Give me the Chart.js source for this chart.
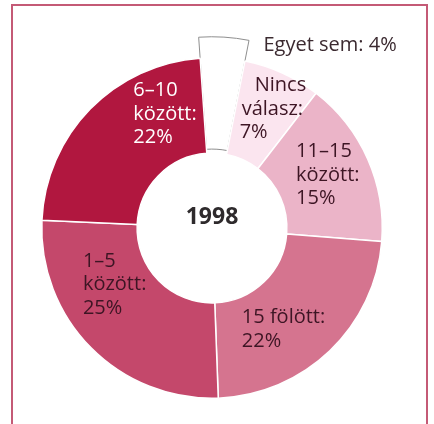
<!DOCTYPE html>
<html>
<head>
<meta charset="utf-8">
<script src="https://cdn.jsdelivr.net/npm/chart.js@4"></script>
<style>
  html, body { margin: 0; padding: 0; background: #ffffff; }
  #wrap { position: relative; width: 434px; height: 424px; overflow: hidden; }
  #frame { position: absolute; left: 11px; top: 4px; width: 417px; height: 440px;
           border: 2px solid #c45a76; box-sizing: border-box; }
  canvas { position: absolute; left: 0; top: 0; }
</style>
</head>
<body>
<div id="wrap">
  <div id="frame"></div>
  <canvas id="c" width="434" height="424"></canvas>
</div>
<script>
// Number of books read, survey of 1998 (share of respondents, %)
const categories = ['Egyet sem', 'Nincs\nválasz', '11–15\nközött', '15 fölött', '1–5\nközött', '6–10\nközött'];
const shares = [4, 7, 15, 22, 25, 22];
const centerTitle = '1998';

const sliceColors = ['#ffffff', '#fbe5ef', '#ebb4c8', '#d5748f', '#c4486b', '#b1173f'];
const sliceBorders = ['#8e8e8e', '#ffffff', '#ffffff', '#ffffff', '#ffffff', '#ffffff'];
const sliceBorderWidths = [1, 1.5, 1.5, 1.5, 1.5, 1.5];
const textColors = ['#3b2a30', '#3d1524', '#3d1524', '#3d1524', '#3d1524', '#ffffff'];

// label block placement relative to each slice's centre point
const labelLayout = [
  { dx: 43, dy: -48, inline: true, indent: [0] },
  { dx: -23, dy: -31, inline: false, indent: [15, 2, 0] },
  { dx: -28, dy: -27, inline: false, indent: [0, 0, 0] },
  { dx: -55, dy: 1, inline: false, indent: [0, 0] },
  { dx: -42, dy: -53, inline: false, indent: [0, 0, 0] },
  { dx: 9, dy: -52, inline: false, indent: [0, 0, 0] }
];
const LINE_HEIGHT = 23.5;
const LABEL_FONT = '20px "Open Sans", "DejaVu Sans", sans-serif';

function labelLines(i) {
  const parts = categories[i].split('\n');
  const value = shares[i] + '%';
  if (labelLayout[i].inline) {
    return [parts.join(' ') + ': ' + value];
  }
  parts[parts.length - 1] += ':';
  parts.push(value);
  return parts;
}

const sliceLabels = {
  id: 'sliceLabels',
  afterDatasetsUpdate(chart) {
    // the "none" slice sticks out beyond the ring
    const arc = chart.getDatasetMeta(0).data[0];
    if (arc) {
      arc.outerRadius += 21;
      arc.innerRadius += 4;
    }
  },
  afterDatasetsDraw(chart) {
    const ctx = chart.ctx;
    const meta = chart.getDatasetMeta(0);
    ctx.save();
    ctx.font = LABEL_FONT;
    ctx.textAlign = 'left';
    ctx.textBaseline = 'middle';
    meta.data.forEach((arc, i) => {
      const p = arc.getCenterPoint();
      const lay = labelLayout[i];
      ctx.fillStyle = textColors[i];
      labelLines(i).forEach((line, k) => {
        ctx.fillText(line, p.x + lay.dx + (lay.indent[k] || 0), p.y + lay.dy + k * LINE_HEIGHT);
      });
    });
    const ref = meta.data[1];
    ctx.font = 'bold 23px "Open Sans", "DejaVu Sans", sans-serif';
    ctx.textAlign = 'center';
    ctx.fillStyle = '#2e2a2c';
    ctx.fillText(centerTitle, ref.x, ref.y - 11);
    ctx.restore();
  }
};

new Chart(document.getElementById('c'), {
  type: 'doughnut',
  data: {
    labels: categories.map(c => c.replace('\n', ' ')),
    datasets: [{
      data: shares,
      backgroundColor: sliceColors,
      borderColor: sliceBorders,
      borderWidth: sliceBorderWidths,
      borderAlign: 'center',
      clip: false
    }]
  },
  options: {
    responsive: false,
    animation: false,
    events: [],
    rotation: -4,
    cutout: '44%',
    layout: { padding: { left: 41, right: 51, top: 57, bottom: 25 } },
    plugins: {
      legend: { display: false },
      tooltip: { enabled: false }
    }
  },
  plugins: [sliceLabels]
});
</script>
</body>
</html>
